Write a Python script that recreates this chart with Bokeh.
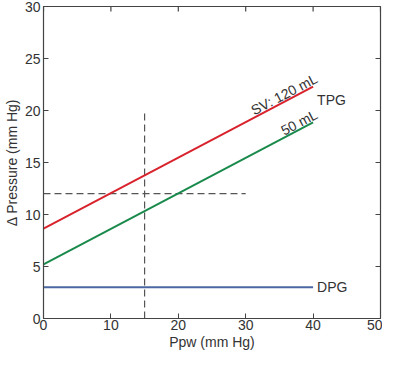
from bokeh.plotting import figure
from bokeh.models import Range1d, FixedTicker
from bokeh.embed import file_html
from bokeh.resources import INLINE
from bokeh.core.properties import value

# data
ppw = [0, 40]
tpg_120 = [8.65, 22.3]
tpg_50 = [5.2, 18.85]
dpg = [3.0, 3.0]
vline_x = [15, 15]
vline_y = [0, 20]
hline_x = [0, 30]
hline_y = [12, 12]
x_ticks = [0, 10, 20, 30, 40, 50]
y_ticks = [0, 5, 10, 15, 20, 25, 30]
x_max = 50
y_max = 30

FONT = "Liberation Sans"
TXT = "#333333"
RED = "#d8232d"
GREEN = "#1a8a4c"
BLUE = "#4a67a3"
DASH = "#555555"
AX = "#444444"
FS = "14px"

p = figure(width=382, height=352, output_backend="svg", toolbar_location=None,
           x_range=Range1d(0, x_max), y_range=Range1d(0, y_max),
           min_border_left=26, min_border_right=2, min_border_top=6, min_border_bottom=28)
p.grid.visible = False
p.outline_line_color = AX
p.outline_line_width = 1.2
p.background_fill_color = "white"
p.border_fill_color = "white"

for ax in (p.xaxis[0], p.yaxis[0]):
    ax.axis_line_color = AX
    ax.major_tick_in = 5
    ax.major_tick_out = 0
    ax.minor_tick_line_color = None
    ax.major_tick_line_color = AX
    ax.major_label_text_font = FONT
    ax.major_label_text_font_size = FS
    ax.major_label_text_color = TXT
    ax.axis_label_text_font = FONT
    ax.axis_label_text_font_size = FS
    ax.axis_label_text_font_style = "normal"
    ax.axis_label_text_color = TXT

p.xaxis.ticker = FixedTicker(ticks=x_ticks)
p.yaxis.ticker = FixedTicker(ticks=y_ticks)
p.xaxis.axis_label = "Ppw (mm Hg)"
p.yaxis.axis_label = "\u0394 Pressure (mm Hg)"
p.xaxis.major_label_standoff = 1
p.yaxis.major_label_standoff = 3
p.xaxis.axis_label_standoff = 1
p.yaxis.axis_label_standoff = 2

# inward ticks on top and right edges (half of each mark clipped by the frame)
p.scatter(x=x_ticks, y=[y_max] * len(x_ticks), marker="dash", size=10, angle=90,
          angle_units="deg", line_color=AX, line_width=1.2)
p.scatter(x=[x_max] * len(y_ticks), y=y_ticks, marker="dash", size=10,
          line_color=AX, line_width=1.2)

# dashed reference lines
p.line(vline_x, vline_y, line_color=DASH, line_width=1.2, line_dash="7 4")
p.line(hline_x, hline_y, line_color=DASH, line_width=1.2, line_dash="7 4")

# curves
p.line(ppw, tpg_120, line_color=RED, line_width=2)
p.line(ppw, tpg_50, line_color=GREEN, line_width=2)
p.line(ppw, dpg, line_color=BLUE, line_width=2)

ang = 27.5
p.text(x=[ppw[1]], y=[tpg_120[1]], text=["SV: 120 mL"], angle=ang, angle_units="deg",
       text_align="right", text_baseline="bottom", x_offset=7, y_offset=-2,
       text_font=value(FONT), text_font_size=FS, text_color=TXT)
p.text(x=[ppw[1]], y=[tpg_50[1]], text=["50 mL"], angle=ang, angle_units="deg",
       text_align="right", text_baseline="bottom", x_offset=7, y_offset=-2,
       text_font=value(FONT), text_font_size=FS, text_color=TXT)
p.text(x=[ppw[1]], y=[(tpg_120[1] + tpg_50[1]) / 2 + 0.4], text=["TPG"],
       text_align="left", text_baseline="middle", x_offset=4,
       text_font=value(FONT), text_font_size=FS, text_color=TXT)
p.text(x=[ppw[1]], y=[dpg[1]], text=["DPG"],
       text_align="left", text_baseline="middle", x_offset=4,
       text_font=value(FONT), text_font_size=FS, text_color=TXT)

open("out.html", "w").write(file_html(p, INLINE))
